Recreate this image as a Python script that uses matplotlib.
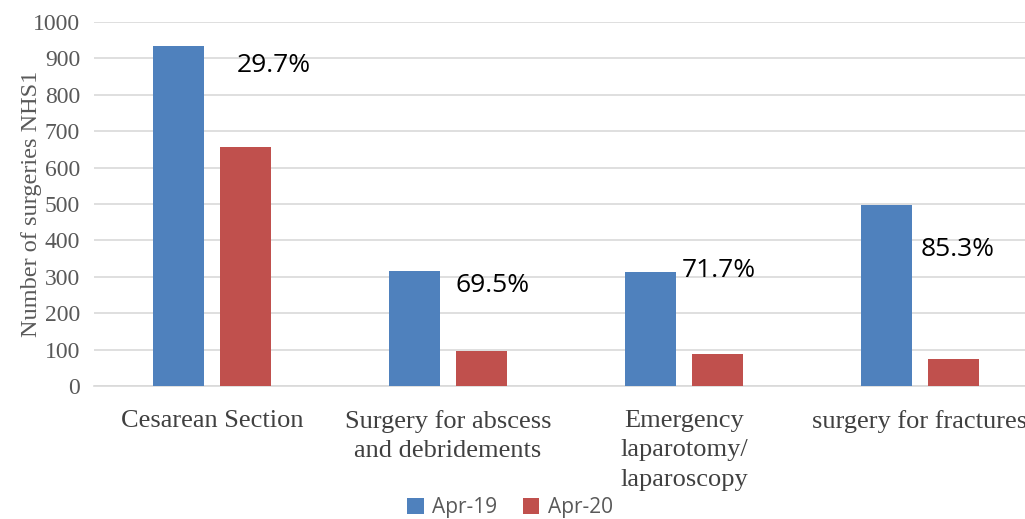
import numpy as np
import matplotlib.pyplot as plt

categories = ["Cesarean Section", "Surgery for abscess\nand debridements",
              "Emergency\nlaparotomy/\nlaparoscopy", "surgery for fractures"]
apr19 = [934, 316, 313, 496]
apr20 = [657, 96, 88, 73]
reductions = ["29.7%", "69.5%", "71.7%", "85.3%"]
series_names = ["Apr-19", "Apr-20"]

blue = "#4f81bd"
red = "#c0504d"

fig = plt.figure(figsize=(10.25, 5.19), dpi=100)
ax = fig.add_axes([94 / 1025, 133 / 519, 944 / 1025, 364 / 519])

x = np.arange(len(categories))
w = 0.22
ax.bar(x - 0.142, apr19, w, color=blue, label=series_names[0], zorder=3)
ax.bar(x + 0.142, apr20, w, color=red, label=series_names[1], zorder=3)

# percentage reduction labels
label_dx = [0.106, 0.03, -0.008, 0.004]
label_y = [880, 277, 318, 374]
for i, txt in enumerate(reductions):
    ax.text(x[i] + label_dx[i], label_y[i], txt, family="Open Sans",
            fontsize=19, ha="left", va="center", color="black", zorder=4)

ax.set_xlim(-0.5, len(categories) - 0.5)
ax.set_ylim(0, 1000)
ax.set_yticks(range(0, 1001, 100))
ax.grid(axis="y", color="#d9d9d9", linewidth=1.2, zorder=0)
for s in ["top", "right", "left"]:
    ax.spines[s].set_visible(False)
ax.spines["bottom"].set_color("#d9d9d9")
ax.spines["bottom"].set_linewidth(1.2)
ax.tick_params(length=0)
ax.set_xticks(x)
ax.set_xticklabels(categories, family="Liberation Serif", fontsize=19,
                   color="#404040", linespacing=1.45, va="top")
ax.tick_params(axis="x", pad=17)
ax.tick_params(axis="y", pad=10)
for lab in ax.get_yticklabels():
    lab.set_family("Liberation Serif")
    lab.set_fontsize(17)
    lab.set_color("#595959")
ax.set_ylabel("Number of surgeries NHS1", family="Liberation Serif",
              fontsize=17.5, color="#595959")
ax.yaxis.set_label_coords(-0.055, 0.5)

fig.legend(loc="center", bbox_to_anchor=(510 / 1025, 1 - 508 / 519), ncol=2,
           frameon=False, prop={"family": "Open Sans", "size": 15},
           labelcolor="#595959", handlelength=0.8, handleheight=0.8,
           handletextpad=0.4, columnspacing=1.2)

fig.savefig("out.png", dpi=100)
